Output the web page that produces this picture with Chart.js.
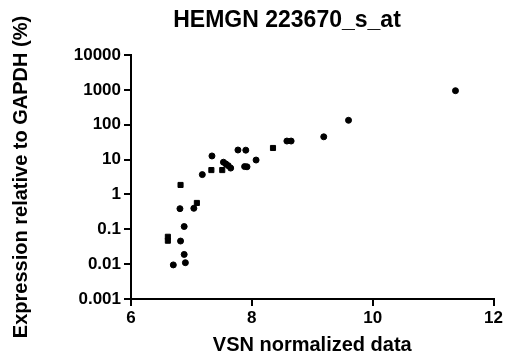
<!DOCTYPE html>
<html>
<head>
<meta charset="utf-8">
<script src="https://cdn.jsdelivr.net/npm/chart.js@4/dist/chart.umd.min.js"></script>
<style>
html,body{margin:0;padding:0;background:#fff;}
#wrap{width:505px;height:360px;}
</style>
</head>
<body>
<div id="wrap"><canvas id="c" width="505" height="360"></canvas></div>
<script>
const chartTitle = 'HEMGN 223670_s_at';
const xTitle = 'VSN normalized data';
const yTitle = 'Expression relative to GAPDH (%)';

const xTickValues = [6, 8, 10, 12];
const yTickValues = [0.001, 0.01, 0.1, 1, 10, 100, 1000, 10000];
const yTickLabels = ['0.001', '0.01', '0.1', '1', '10', '100', '1000', '10000'];

const circleX = [7.18, 7.34, 7.53, 7.57, 7.61, 7.65, 7.77, 7.90, 7.88, 7.92, 8.07, 8.58, 8.65, 9.19, 9.60, 11.37, 6.81, 7.04, 6.88, 6.82, 6.88, 6.90, 6.70];
const circleY = [3.7, 12.7, 8.4, 7.5, 6.7, 5.7, 18.8, 18.6, 6.3, 6.2, 9.7, 34, 34, 45, 134, 946, 0.39, 0.40, 0.12, 0.046, 0.019, 0.011, 0.0095];

const squareX = [6.82, 7.09, 6.61, 6.61, 7.33, 7.51, 8.35];
const squareY = [1.87, 0.57, 0.061, 0.047, 5.0, 5.0, 21.5];

const toPts = (xs, ys) => xs.map((x, i) => ({x: x, y: ys[i]}));

const FONT = "'Liberation Sans', Arial, sans-serif";

const titlePlugin = {
  id: 'customTitle',
  afterDraw(chart) {
    const ctx = chart.ctx;
    ctx.save();
    ctx.fillStyle = '#000';
    ctx.font = "bold 23px " + FONT;
    ctx.textAlign = 'center';
    ctx.textBaseline = 'middle';
    ctx.fillText(chartTitle, 287, 21);
    ctx.restore();
  }
};

new Chart(document.getElementById('c'), {
  type: 'scatter',
  data: {
    datasets: [
      {
        label: 'circles',
        data: toPts(circleX, circleY),
        pointStyle: 'circle',
        pointRadius: 3,
        borderWidth: 1,
        backgroundColor: '#000',
        borderColor: '#000'
      },
      {
        label: 'squares',
        data: toPts(squareX, squareY),
        pointStyle: 'rect',
        pointRadius: 3.6,
        borderWidth: 1,
        backgroundColor: '#000',
        borderColor: '#000'
      }
    ]
  },
  options: {
    responsive: false,
    animation: false,
    devicePixelRatio: 1,
    layout: { padding: { top: 55, right: 9, left: 0, bottom: 0 } },
    plugins: {
      legend: { display: false },
      tooltip: { enabled: false },
      title: { display: false }
    },
    scales: {
      x: {
        type: 'linear',
        min: 6,
        max: 12,
        afterFit(scale) { scale.height = 61; },
        afterBuildTicks(scale) { scale.ticks = xTickValues.map(v => ({value: v})); },
        grid: { display: true, drawOnChartArea: false, drawTicks: true, tickLength: 7, color: '#000', lineWidth: 2 },
        border: { display: true, color: '#000', width: 2 },
        ticks: {
          color: '#000',
          padding: 2,
          font: { family: FONT, size: 17, weight: 'bold' },
          callback: v => String(v)
        },
        title: {
          display: true,
          text: xTitle,
          color: '#000',
          padding: 3,
          font: { family: FONT, size: 20, weight: 'bold' }
        }
      },
      y: {
        type: 'logarithmic',
        min: 0.001,
        max: 10000,
        afterFit(scale) { scale.width = 131; },
        afterBuildTicks(scale) { scale.ticks = yTickValues.map(v => ({value: v})); },
        grid: { display: true, drawOnChartArea: false, drawTicks: true, tickLength: 7, color: '#000', lineWidth: 2 },
        border: { display: true, color: '#000', width: 2 },
        ticks: {
          color: '#000',
          padding: 3,
          autoSkip: false,
          font: { family: FONT, size: 17, weight: 'bold' },
          callback: (v, i) => yTickLabels[i]
        },
        title: {
          display: true,
          text: yTitle,
          color: '#000',
          padding: 9,
          font: { family: FONT, size: 20, weight: 'bold' }
        }
      }
    }
  },
  plugins: [titlePlugin]
});
</script>
</body>
</html>
